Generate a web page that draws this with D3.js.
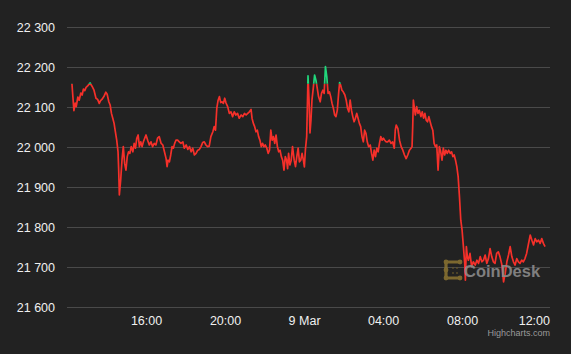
<!DOCTYPE html>
<html>
<head>
<meta charset="utf-8">
<script src="https://cdn.jsdelivr.net/npm/d3@7"></script>
<style>
  html, body { margin: 0; padding: 0; background: #222222; }
  svg { display: block; font-family: "Liberation Sans", Arial, sans-serif; }
</style>
</head>
<body>
<svg id="chart" width="571" height="354"></svg>
<script>
// minutes after 8 Mar 12:00
var minutes = [
  15, 21, 25, 28, 33, 37, 42, 46, 50, 54, 58, 62, 66, 70, 76, 82, 88, 93, 98, 102,
  106, 112, 118, 122, 127, 131, 135, 139, 143, 147, 151, 155, 157, 159, 163, 167, 171, 175, 179, 183,
  187, 191, 195, 200, 204, 208, 212, 216, 220, 224, 228, 232, 238, 240, 245, 250, 255, 260, 265, 270,
  275, 280, 286, 291, 296, 301, 304, 307, 311, 315, 319, 323, 327, 331, 336, 341, 346, 352, 356, 362,
  367, 372, 377, 382, 387, 392, 397, 402, 407, 412, 417, 422, 427, 432, 437, 443, 447, 451, 455, 459,
  463, 467, 471, 475, 479, 483, 488, 493, 498, 503, 508, 513, 518, 523, 529, 534, 539, 544, 549, 554,
  559, 562, 566, 570, 574, 578, 582, 586, 590, 594, 598, 602, 607, 611, 615, 619, 623, 627, 631, 635,
  639, 643, 647, 651, 655, 659, 663, 667, 670, 673, 677, 681, 685, 690, 694, 698, 702, 706, 710, 714,
  718, 721, 724, 728, 730, 732, 735, 738, 741, 744, 748, 752, 756, 760, 764, 769, 773, 777, 781, 785,
  789, 793, 797, 801, 805, 809, 813, 817, 821, 825, 828, 831, 835, 839, 844, 848, 852, 856, 860, 864,
  868, 872, 876, 880, 884, 888, 892, 896, 900, 904, 908, 912, 916, 921, 925, 929, 933, 937, 941, 945,
  949, 953, 957, 961, 965, 969, 974, 979, 984, 989, 994, 997, 1000, 1005, 1010, 1015, 1020, 1025, 1030, 1035,
  1040, 1045, 1048, 1050, 1052, 1055, 1058, 1062, 1066, 1070, 1075, 1079, 1083, 1087, 1091, 1095, 1099, 1103, 1107, 1111,
  1115, 1119, 1123, 1127, 1131, 1135, 1139, 1143, 1147, 1151, 1155, 1159, 1164, 1168, 1172, 1176, 1180, 1184, 1188, 1192,
  1196, 1200, 1204, 1208, 1210, 1213, 1216, 1219, 1224, 1229, 1234, 1240, 1245, 1250, 1255, 1260, 1265, 1270, 1275, 1280,
  1285, 1290, 1295, 1300, 1305, 1310, 1315, 1321, 1326, 1331, 1336, 1341, 1346, 1351, 1356, 1361, 1366, 1371, 1376, 1381,
  1386, 1391, 1396, 1401, 1407, 1412, 1417, 1422, 1427, 1432, 1437, 1442, 1447, 1452
];
var prices = [
  22158, 22091, 22110, 22101, 22125, 22117, 22135, 22130, 22145, 22141, 22149, 22152, 22156, 22160, 22152, 22142, 22122, 22119, 22109, 22116,
  22119, 22126, 22137, 22132, 22113, 22105, 22084, 22072, 22059, 22038, 22017, 21988, 21942, 21880, 21917, 21967, 22001, 21959, 21942, 21976,
  21988, 21984, 22001, 21988, 22009, 21997, 22022, 22030, 22001, 22013, 22001, 22013, 22026, 22030, 22017, 22005, 22013, 22001, 22009, 22005,
  22022, 22026, 22009, 22005, 21988, 21971, 21951, 21967, 21963, 21980, 22001, 21997, 22009, 22017, 22017, 22013, 22009, 22013, 21997, 22005,
  21994, 22001, 21988, 21997, 21980, 21984, 21992, 21994, 22001, 22011, 22013, 22005, 22001, 22002, 22026, 22038, 22051, 22042, 22097, 22117,
  22126, 22111, 22113, 22109, 22122, 22110, 22101, 22084, 22088, 22076, 22088, 22080, 22084, 22072, 22080, 22076, 22084, 22080, 22084, 22088,
  22094, 22072, 22059, 22051, 22038, 22042, 22026, 22017, 22001, 22009, 22001, 22005, 21997, 21984, 21992, 22042, 22017, 22026, 22009, 22030,
  22001, 21988, 21992, 21976, 21967, 21942, 21976, 21967, 21946, 21984, 21955, 21967, 22001, 21967, 21951, 21976, 21997, 21963, 21967, 21984,
  21967, 21950, 21992, 22026, 22100, 22178, 22120, 22035, 22067, 22117, 22147, 22180, 22167, 22147, 22126, 22113, 22134, 22142, 22134, 22201,
  22176, 22134, 22138, 22126, 22109, 22097, 22080, 22076, 22092, 22134, 22161, 22155, 22142, 22138, 22130, 22117, 22097, 22088, 22117, 22092,
  22076, 22063, 22072, 22084, 22072, 22059, 22051, 22026, 22013, 22042, 22034, 22013, 22001, 22005, 21984, 21967, 21992, 21976, 21997, 21988,
  22009, 22026, 22017, 22022, 22017, 22013, 22013, 22017, 22009, 22013, 21997, 22042, 22055, 22046, 22017, 22001, 21992, 21980, 21971, 21980,
  21992, 21997, 22001, 22051, 22117, 22097, 22080, 22101, 22084, 22092, 22076, 22088, 22072, 22084, 22067, 22063, 22076, 22063, 22051, 22042,
  22009, 22001, 22005, 21942, 22001, 21988, 21967, 21997, 21980, 21992, 21984, 21992, 21984, 21988, 21976, 21980, 21967, 21951, 21926, 21876,
  21817, 21792, 21751, 21709, 21667, 21751, 21726, 21717, 21734, 21701, 21713, 21705, 21717, 21709, 21726, 21713, 21717, 21730, 21709, 21721,
  21746, 21726, 21713, 21709, 21734, 21738, 21726, 21705, 21663, 21684, 21713, 21730, 21751, 21726, 21713, 21705, 21721, 21713, 21709, 21717,
  21713, 21721, 21734, 21755, 21780, 21767, 21755, 21771, 21763, 21767, 21759, 21771, 21759, 21751
];
var yTicks = [21600, 21700, 21800, 21900, 22000, 22100, 22200, 22300];
var xTickMinutes = [240, 480, 720, 960, 1200, 1440];
var xTickLabels = ["16:00", "20:00", "9 Mar", "04:00", "08:00", "12:00"];

(function() {
  var start = new Date(2023, 2, 8, 12, 0);
  function toDate(m) { return new Date(start.getTime() + m * 60000); }

  var plotL = 67, plotR = 550, plotT = 27, plotB = 307;
  var svg = d3.select("#chart");

  var x = d3.scaleTime()
    .domain([toDate(0), toDate(1467)])
    .range([plotL, plotR]);
  var y = d3.scaleLinear()
    .domain([21600, 22300])
    .range([plotB, plotT]);

  var fmt = function(v) { return d3.format(",")(v).replace(",", " "); };

  // grid + y labels
  var gy = svg.append("g")
    .attr("transform", "translate(" + plotL + ",0)")
    .call(d3.axisLeft(y).tickValues(yTicks).tickSize(-(plotR - plotL)).tickFormat(fmt));
  gy.select(".domain").remove();
  gy.selectAll(".tick line").attr("stroke", "#4a4a4a").attr("stroke-width", 1);
  gy.selectAll(".tick text")
    .attr("x", -12)
    .attr("fill", "#f0f0f0")
    .style("font-size", "12.5px");

  // x labels
  var gx = svg.append("g")
    .attr("transform", "translate(0," + plotB + ")")
    .call(d3.axisBottom(x)
      .tickValues(xTickMinutes.map(toDate))
      .tickSize(0)
      .tickFormat(function(d, i) { return xTickLabels[i]; }));
  gx.select(".domain").remove();
  gx.selectAll(".tick text")
    .attr("y", 9)
    .attr("dy", "0.71em")
    .attr("fill", "#f0f0f0")
    .style("font-size", "12.5px")
    .each(function() {
      // keep last label inside the plot (like highcharts justify)
      var bb = this.getBBox();
      var tx = d3.select(this.parentNode).attr("transform");
      var px = +tx.match(/translate\(([-\d.]+)/)[1];
      if (px + bb.x + bb.width > plotR) {
        d3.select(this).attr("text-anchor", "end").attr("x", plotR - px);
      }
    });

  // line, split at the opening value
  var threshold = prices[0];
  var data = minutes.map(function(m, i) { return { t: toDate(m), v: prices[i] }; });
  var line = d3.line()
    .x(function(d) { return x(d.t); })
    .y(function(d) { return y(d.v); });

  var defs = svg.append("defs");
  defs.append("clipPath").attr("id", "above")
    .append("rect").attr("x", 0).attr("y", 0).attr("width", 571).attr("height", y(threshold));
  defs.append("clipPath").attr("id", "below")
    .append("rect").attr("x", 0).attr("y", y(threshold)).attr("width", 571).attr("height", 354 - y(threshold));

  svg.append("path").datum(data)
    .attr("d", line)
    .attr("fill", "none")
    .attr("stroke", "#f5302a")
    .attr("stroke-width", 1.7)
    .attr("stroke-linejoin", "round")
    .attr("clip-path", "url(#below)");
  svg.append("path").datum(data)
    .attr("d", line)
    .attr("fill", "none")
    .attr("stroke", "#21d67b")
    .attr("stroke-width", 1.7)
    .attr("stroke-linejoin", "round")
    .attr("clip-path", "url(#above)");

  // watermark
  var wm = svg.append("g").attr("transform", "translate(443,260)").attr("opacity", 0.85);
  wm.append("path")
    .attr("d", "M17,2 H3 V18 H17")
    .attr("fill", "none")
    .attr("stroke", "#8c7532")
    .attr("stroke-width", 3.2)
    .attr("stroke-linejoin", "round");
  [[3, 2], [17, 2], [3, 18], [17, 18], [3, 10]].forEach(function(p) {
    wm.append("circle").attr("cx", p[0]).attr("cy", p[1]).attr("r", 2.4).attr("fill", "#8c7532");
  });
  [[10, 8], [14, 8], [10, 13], [14, 13]].forEach(function(p) {
    wm.append("circle").attr("cx", p[0]).attr("cy", p[1]).attr("r", 0.9).attr("fill", "#6b5a2a");
  });
  svg.append("text")
    .attr("x", 464)
    .attr("y", 277)
    .attr("fill", "#8a8a8a")
    .attr("opacity", 0.9)
    .style("font-size", "16.5px")
    .style("font-weight", "bold")
    .text("CoinDesk");

  // credits
  svg.append("text")
    .attr("x", plotR)
    .attr("y", 336)
    .attr("text-anchor", "end")
    .attr("fill", "#9a9a9a")
    .style("font-size", "9px")
    .text("Highcharts.com");
})();
</script>
</body>
</html>
